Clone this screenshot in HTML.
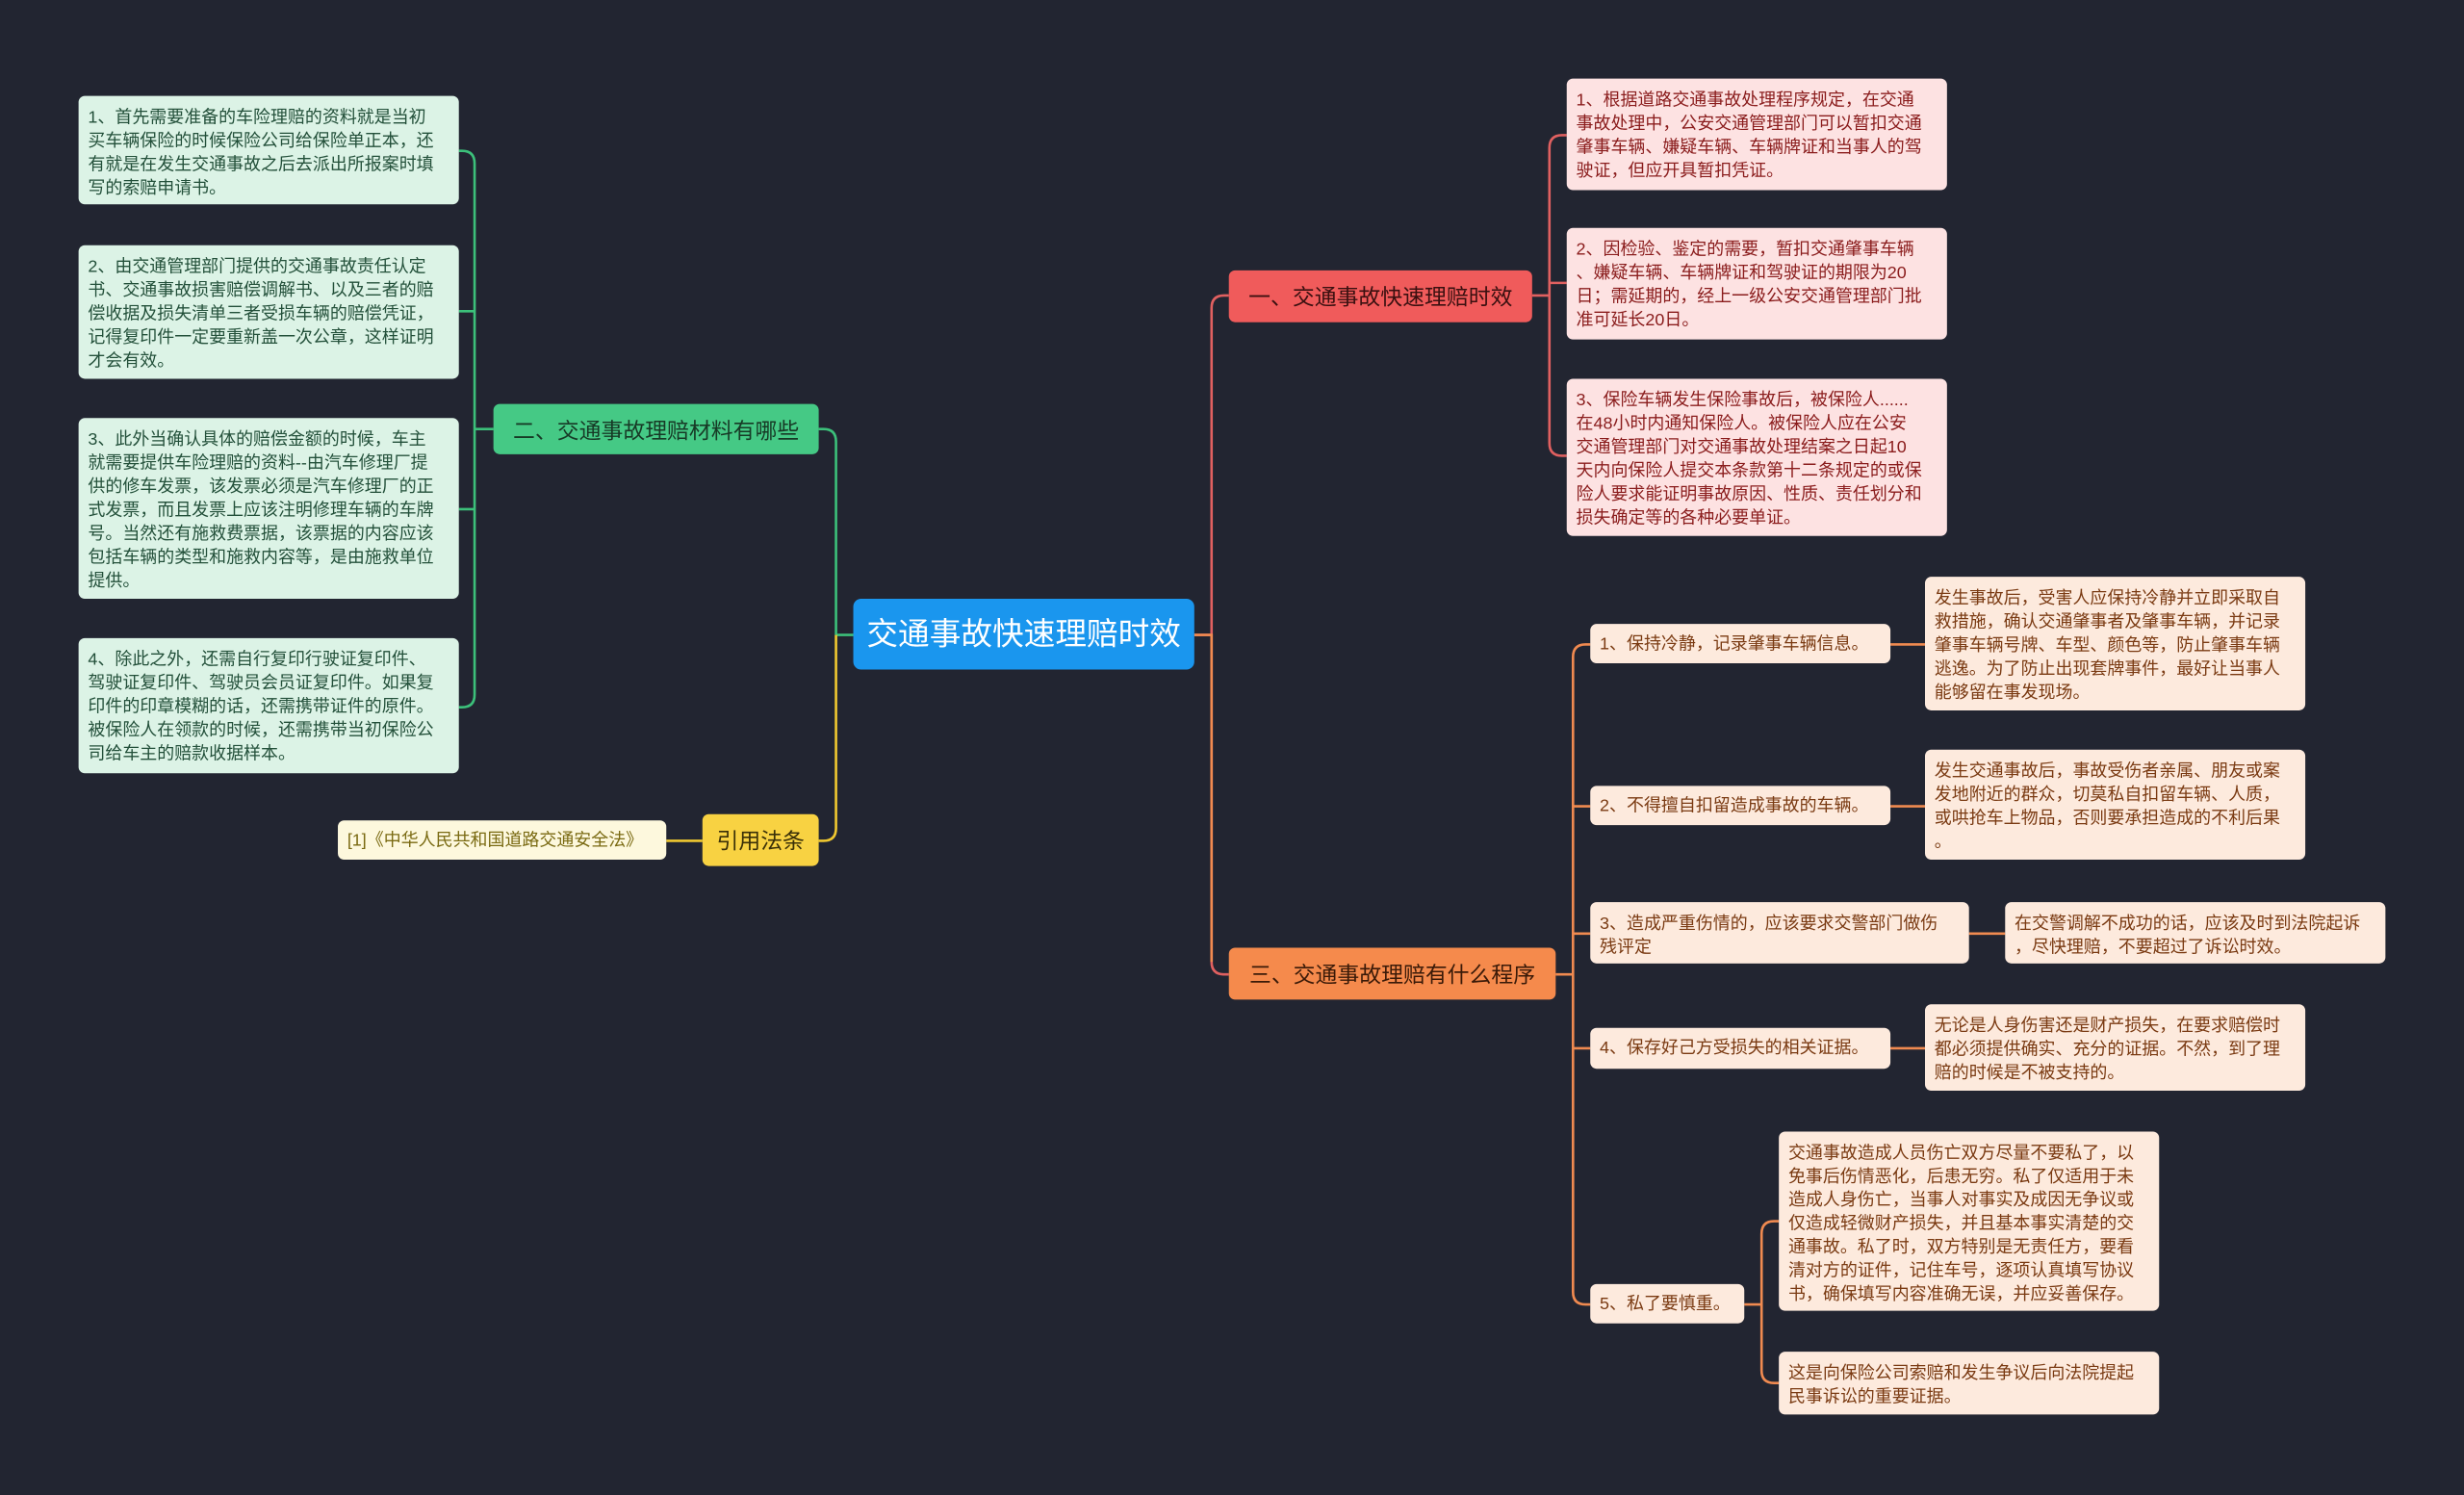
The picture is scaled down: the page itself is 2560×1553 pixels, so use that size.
<!DOCTYPE html>
<html><head><meta charset="utf-8"><style>
html,body{margin:0;padding:0;background:#222531;width:2560px;height:1552px;overflow:hidden}
#w{position:absolute;left:0;top:0;width:1568px;height:951px;transform:scale(1.63265);transform-origin:0 0;font-family:"Liberation Sans","Noto Sans CJK SC",sans-serif}
.n{position:absolute;box-sizing:border-box;border-radius:4px;font-size:11px;line-height:15px;padding:6.5px 6px 4px;white-space:nowrap}
.g{background:#dcf3e6;color:#23503a}
.r{background:#fde2e2;color:#8a1c1c}
.o{background:#fdeadd;color:#7a3a12}
.y{background:#fdf8dd;color:#7a6a12}
.b{display:flex;align-items:center;justify-content:center;font-size:14px;padding:2px 0 0}
svg{position:absolute;left:0;top:0}
</style></head><body><div id="w">
<svg width="1568" height="951" fill="none" stroke-width="1.6">
<path d="M760 404 H771 M771 196 Q771 188 779 188 H782 M771 196 V612 Q771 620 779 620 H782" stroke="#e06060"/>
<path d="M760 404 H771 V612" stroke="#f08a50"/>
<path d="M975 188 H986 M986 94 Q986 86 994 86 H997 M986 94 V282 Q986 290 994 290 H997 M986 180 H997" stroke="#e06060"/>
<path d="M990 620 H1001 M1001 418 Q1001 410 1009 410 H1012 M1001 418 V822 Q1001 830 1009 830 H1012 M1001 513 H1012 M1001 594 H1012 M1001 667 H1012" stroke="#f08a50"/>
<path d="M1203 410 H1225 M1203 513 H1225 M1253 594 H1276 M1203 667 H1225 M1110 830 H1121 M1121 785 Q1121 777 1129 777 H1132 M1121 785 V872 Q1121 880 1129 880 H1132" stroke="#f08a50"/>
<path d="M543 404 H532 M532 281 Q532 273 524 273 H521 M532 281 V404" stroke="#3cc07a"/>
<path d="M532 404 V527 Q532 535 524 535 H521 M447 535 H424" stroke="#f0c830"/>
<path d="M314 273 H302 M302 104 Q302 96 294 96 H292 M302 104 V442 Q302 450 294 450 H292 M302 198 H292 M302 324 H292" stroke="#3cc07a"/>
</svg>
<div class="n b" style="left:543px;top:381px;width:217px;height:45px;background:#1a96ee;color:#fff;font-size:20px;border-radius:5px">交通事故快速理赔时效</div>
<div class="n b" style="left:782px;top:172px;width:193px;height:33px;background:#f05b5b;color:#3a1010">一、交通事故快速理赔时效</div>
<div class="n b" style="left:782px;top:603px;width:208px;height:33px;background:#f58a4c;color:#3a1a08">三、交通事故理赔有什么程序</div>
<div class="n b" style="left:314px;top:257px;width:207px;height:32px;background:#45c985;color:#173a26">二、交通事故理赔材料有哪些</div>
<div class="n b" style="left:447px;top:518px;width:74px;height:33px;background:#f8d242;color:#3a3008">引用法条</div>
<div class="n y" style="left:215px;top:522px;width:209px;height:25px;padding:6px 6px 3px">[1]《中华人民共和国道路交通安全法》</div>
<div class="n r" style="left:997px;top:50px;width:242px;height:71px">1、根据道路交通事故处理程序规定，在交通<br>事故处理中，公安交通管理部门可以暂扣交通<br>肇事车辆、嫌疑车辆、车辆牌证和当事人的驾<br>驶证，但应开具暂扣凭证。</div>
<div class="n r" style="left:997px;top:145px;width:242px;height:71px">2、因检验、鉴定的需要，暂扣交通肇事车辆<br>、嫌疑车辆、车辆牌证和驾驶证的期限为20<br>日；需延期的，经上一级公安交通管理部门批<br>准可延长20日。</div>
<div class="n r" style="left:997px;top:241px;width:242px;height:100px">3、保险车辆发生保险事故后，被保险人......<br>在48小时内通知保险人。被保险人应在公安<br>交通管理部门对交通事故处理结案之日起10<br>天内向保险人提交本条款第十二条规定的或保<br>险人要求能证明事故原因、性质、责任划分和<br>损失确定等的各种必要单证。</div>
<div class="n o" style="left:1012px;top:397px;width:191px;height:25px;padding:6px 6px 3px">1、保持冷静，记录肇事车辆信息。</div>
<div class="n o" style="left:1012px;top:500px;width:191px;height:25px;padding:6px 6px 3px">2、不得擅自扣留造成事故的车辆。</div>
<div class="n o" style="left:1012px;top:574px;width:241px;height:39px">3、造成严重伤情的，应该要求交警部门做伤<br>残评定</div>
<div class="n o" style="left:1012px;top:654px;width:191px;height:26px;padding:6px 6px 3px">4、保存好己方受损失的相关证据。</div>
<div class="n o" style="left:1012px;top:817px;width:98px;height:25px;padding:6px 6px 3px">5、私了要慎重。</div>
<div class="n o" style="left:1225px;top:367px;width:242px;height:85px">发生事故后，受害人应保持冷静并立即采取自<br>救措施，确认交通肇事者及肇事车辆，并记录<br>肇事车辆号牌、车型、颜色等，防止肇事车辆<br>逃逸。为了防止出现套牌事件，最好让当事人<br>能够留在事发现场。</div>
<div class="n o" style="left:1225px;top:477px;width:242px;height:70px">发生交通事故后，事故受伤者亲属、朋友或案<br>发地附近的群众，切莫私自扣留车辆、人质，<br>或哄抢车上物品，否则要承担造成的不利后果<br>。</div>
<div class="n o" style="left:1276px;top:574px;width:242px;height:39px">在交警调解不成功的话，应该及时到法院起诉<br>，尽快理赔，不要超过了诉讼时效。</div>
<div class="n o" style="left:1225px;top:639px;width:242px;height:55px">无论是人身伤害还是财产损失，在要求赔偿时<br>都必须提供确实、充分的证据。不然，到了理<br>赔的时候是不被支持的。</div>
<div class="n o" style="left:1132px;top:720px;width:242px;height:114px">交通事故造成人员伤亡双方尽量不要私了，以<br>免事后伤情恶化，后患无穷。私了仅适用于未<br>造成人身伤亡，当事人对事实及成因无争议或<br>仅造成轻微财产损失，并且基本事实清楚的交<br>通事故。私了时，双方特别是无责任方，要看<br>清对方的证件，记住车号，逐项认真填写协议<br>书，确保填写内容准确无误，并应妥善保存。</div>
<div class="n o" style="left:1132px;top:860px;width:242px;height:40px">这是向保险公司索赔和发生争议后向法院提起<br>民事诉讼的重要证据。</div>
<div class="n g" style="left:50px;top:61px;width:242px;height:69px">1、首先需要准备的车险理赔的资料就是当初<br>买车辆保险的时候保险公司给保险单正本，还<br>有就是在发生交通事故之后去派出所报案时填<br>写的索赔申请书。</div>
<div class="n g" style="left:50px;top:156px;width:242px;height:85px">2、由交通管理部门提供的交通事故责任认定<br>书、交通事故损害赔偿调解书、以及三者的赔<br>偿收据及损失清单三者受损车辆的赔偿凭证，<br>记得复印件一定要重新盖一次公章，这样证明<br>才会有效。</div>
<div class="n g" style="left:50px;top:266px;width:242px;height:115px">3、此外当确认具体的赔偿金额的时候，车主<br>就需要提供车险理赔的资料--由汽车修理厂提<br>供的修车发票，该发票必须是汽车修理厂的正<br>式发票，而且发票上应该注明修理车辆的车牌<br>号。当然还有施救费票据，该票据的内容应该<br>包括车辆的类型和施救内容等，是由施救单位<br>提供。</div>
<div class="n g" style="left:50px;top:406px;width:242px;height:86px">4、除此之外，还需自行复印行驶证复印件、<br>驾驶证复印件、驾驶员会员证复印件。如果复<br>印件的印章模糊的话，还需携带证件的原件。<br>被保险人在领款的时候，还需携带当初保险公<br>司给车主的赔款收据样本。</div>
</div></body></html>
